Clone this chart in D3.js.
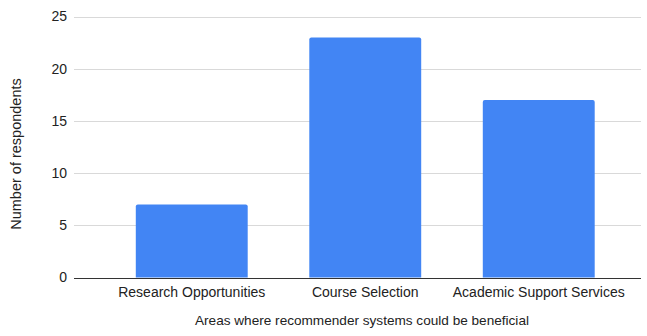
<!DOCTYPE html>
<html>
<head>
<meta charset="utf-8">
<script src="https://cdn.jsdelivr.net/npm/d3@7"></script>
<style>
  body { margin: 0; background: #fff; }
  text { font-family: "Liberation Sans", Arial, sans-serif; fill: #222; }
</style>
</head>
<body>
<svg id="chart" width="647" height="336"></svg>
<script>
const categories = ["Research Opportunities", "Course Selection", "Academic Support Services"];
const respondents = [7, 23, 17];
const yTicks = [0, 5, 10, 15, 20, 25];
const xTitle = "Areas where recommender systems could be beneficial";
const yTitle = "Number of respondents";

const svg = d3.select("#chart");
const gridLeft = 74, gridRight = 641;
const y = d3.scaleLinear().domain([0, 25]).range([277.5, 16.5]);
const x = d3.scaleBand().domain(categories).range([105, 625.5])
  .paddingInner(0.355).paddingOuter(0.1775);

// horizontal gridlines
svg.append("g").selectAll("line").data(yTicks.filter(d => d !== 0)).join("line")
  .attr("x1", gridLeft).attr("x2", gridRight)
  .attr("y1", d => Math.round(y(d)) + 0.5).attr("y2", d => Math.round(y(d)) + 0.5)
  .attr("stroke", "#d9d9d9").attr("stroke-width", 1);

// y tick labels
svg.append("g").selectAll("text").data(yTicks).join("text")
  .attr("x", 67).attr("y", d => y(d)).attr("dy", "0.35em")
  .attr("text-anchor", "end").attr("font-size", 14)
  .text(d => d);

// bars with slightly rounded tops
svg.append("g").selectAll("path").data(categories).join("path")
  .attr("fill", "#4285f4")
  .attr("d", (c, i) => {
    const x0 = x(c), x1 = x(c) + x.bandwidth();
    const top = y(respondents[i]), base = y(0), r = 2;
    return `M${x0},${base}V${top + r}Q${x0},${top} ${x0 + r},${top}H${x1 - r}Q${x1},${top} ${x1},${top + r}V${base}Z`;
  });

// baseline
svg.append("line")
  .attr("x1", gridLeft).attr("x2", gridRight)
  .attr("y1", Math.round(y(0)) + 0.5).attr("y2", Math.round(y(0)) + 0.5)
  .attr("stroke", "#333").attr("stroke-width", 1);

// category labels
svg.append("g").selectAll("text").data(categories).join("text")
  .attr("x", c => x(c) + x.bandwidth() / 2).attr("y", 297)
  .attr("text-anchor", "middle").attr("font-size", 14)
  .text(c => c);

// axis titles
svg.append("text")
  .attr("x", 362).attr("y", 325)
  .attr("text-anchor", "middle").attr("font-size", 13.6)
  .text(xTitle);

svg.append("text")
  .attr("transform", "translate(21,154) rotate(-90)")
  .attr("text-anchor", "middle").attr("font-size", 14.5)
  .text(yTitle);
</script>
</body>
</html>
